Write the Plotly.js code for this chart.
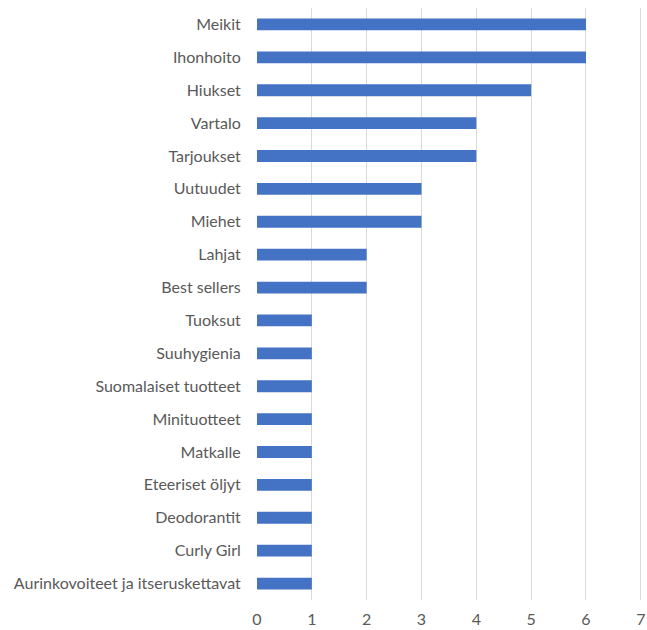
<!DOCTYPE html>
<html>
<head>
<meta charset="utf-8">
<script src="https://cdn.plot.ly/plotly-3.0.1.min.js"></script>
<style>html,body{margin:0;padding:0;background:#fff;}#chart{width:647px;height:630px;}</style>
</head>
<body>
<div id="chart"></div>
<script>
const categories = ["Meikit","Ihonhoito","Hiukset","Vartalo","Tarjoukset","Uutuudet","Miehet","Lahjat","Best sellers","Tuoksut","Suuhygienia","Suomalaiset tuotteet","Minituotteet","Matkalle","Eteeriset öljyt","Deodorantit","Curly Girl","Aurinkovoiteet ja itseruskettavat"];
const values = [6,6,5,4,4,3,3,2,2,1,1,1,1,1,1,1,1,1];
const xTicks = [0,1,2,3,4,5,6,7];

const trace = {
  type: 'bar',
  orientation: 'h',
  y: categories,
  x: values,
  marker: {color: '#4472C4'},
  hoverinfo: 'x+y'
};

const layout = {
  width: 647, height: 630,
  margin: {l: 257, r: 4, t: 8, b: 30},
  paper_bgcolor: '#ffffff', plot_bgcolor: '#ffffff',
  bargap: 0.64,
  showlegend: false,
  font: {family: 'Lato, Open Sans, sans-serif', size: 16, color: '#595959'},
  xaxis: {
    range: [0, 7.04],
    tickvals: xTicks,
    ticktext: xTicks.map(String),
    showgrid: true, gridcolor: '#d9d9d9', gridwidth: 1,
    zeroline: false, showline: false,
    ticks: 'outside', ticklen: 5, tickcolor: 'rgba(0,0,0,0)',
    ticklabeloverflow: 'allow',
    fixedrange: true
  },
  yaxis: {
    type: 'category',
    autorange: 'reversed',
    showgrid: false, zeroline: false, showline: false,
    ticks: 'outside', ticklen: 12, tickcolor: 'rgba(0,0,0,0)',
    fixedrange: true
  }
};

Plotly.newPlot('chart', [trace], layout, {displayModeBar: false, staticPlot: true});
</script>
</body>
</html>
